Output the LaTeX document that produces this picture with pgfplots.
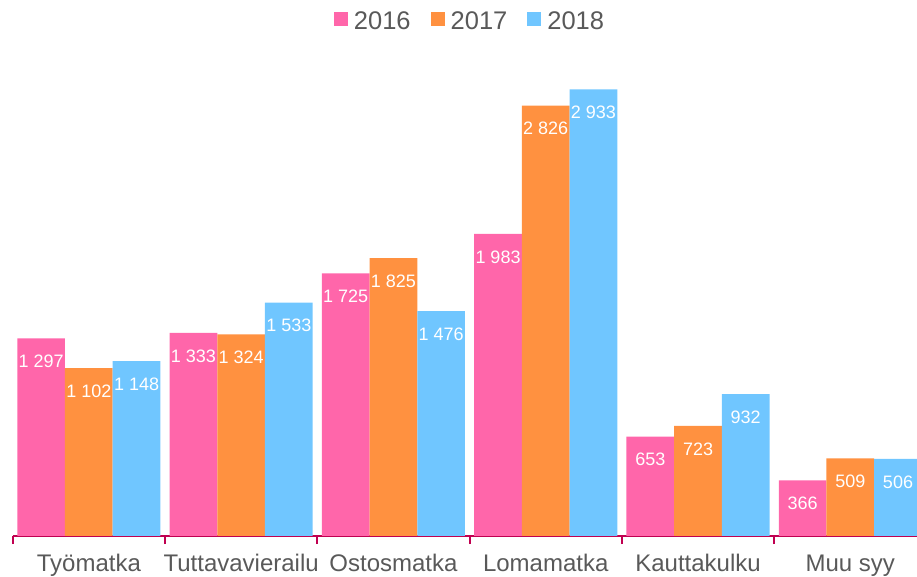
\documentclass[border=0pt]{standalone}
\usepackage{fontspec}
\setmainfont{Liberation Sans}
\usepackage{pgfplots}
\pgfplotsset{compat=1.18}
\definecolor{cpink}{RGB}{255,102,170}
\definecolor{corange}{RGB}{255,145,64}
\definecolor{cblue}{RGB}{112,198,255}
\definecolor{caxis}{RGB}{192,0,80}
\definecolor{ctext}{RGB}{89,89,89}
\begin{document}
\begin{tikzpicture}
\useasboundingbox (-12.7pt,-41pt) rectangle (904.3pt,536pt);
\begin{axis}[
  at={(0pt,0pt)}, anchor=south west,
  scale only axis, width=904.3pt, height=491pt,
  xmin=-0.5, xmax=5.438, ymin=0, ymax=3224,
  ybar=0pt, bar width=47.7pt,
  axis x line*=bottom, axis y line=none,
  x axis line style={draw=caxis, line width=2pt},
  xtick={0,...,5},
  xticklabels={Työmatka,Tuttavavierailu,Ostosmatka,Lomamatka,Kauttakulku,Muu syy},
  minor xtick={-0.5,0.5,1.5,2.5,3.5,4.5},
  major tick length=0pt, minor tick length=8pt, tick align=outside,
  tick style={draw=caxis, line width=2pt},
  ytick=\empty,
  xticklabel style={font=\fontsize{24}{28}\selectfont, text=ctext, anchor=base, yshift=-36pt},
  nodes near coords={\pgfmathprintnumber[assume math mode=true,fixed,precision=0,1000 sep={\ }]{\pgfplotspointmeta}},
  every node near coord/.append style={anchor=center, yshift=-23pt, text=white, font=\fontsize{18}{21}\selectfont},
  legend style={at={(0.5057,1.049)}, anchor=center, draw=none, fill=none,
    font=\fontsize{25.5}{30}\selectfont, text=ctext,
    /tikz/every odd column/.append style={column sep=4pt},
    /tikz/every even column/.append style={column sep=18pt}},
  legend columns=3,
]
\addplot[fill=cpink, draw=none, legend image code/.code={\fill[cpink] (0pt,-5pt) rectangle (14pt,9pt);}] coordinates {(0,1297) (1,1333) (2,1725) (3,1983) (4,653) (5,366)};
\addplot[fill=corange, draw=none, legend image code/.code={\fill[corange] (0pt,-5pt) rectangle (14pt,9pt);}] coordinates {(0,1102) (1,1324) (2,1825) (3,2826) (4,723) (5,509)};
\addplot[fill=cblue, draw=none, legend image code/.code={\fill[cblue] (0pt,-5pt) rectangle (14pt,9pt);}] coordinates {(0,1148) (1,1533) (2,1476) (3,2933) (4,932) (5,506)};
\legend{2016,2017,2018}
\end{axis}
\end{tikzpicture}
\end{document}
